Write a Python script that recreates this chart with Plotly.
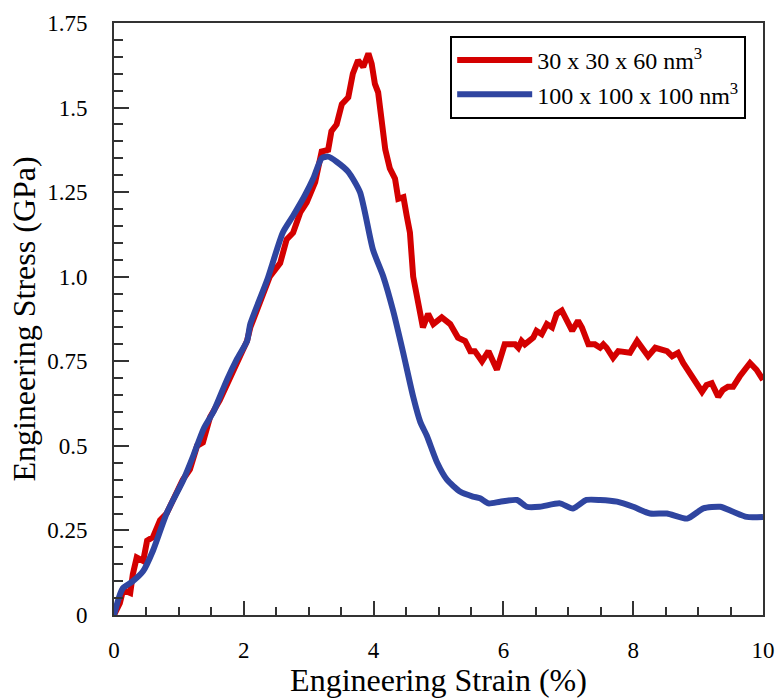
import plotly.graph_objects as go

red_x = [0, 0.09, 0.14, 0.25, 0.29, 0.35, 0.45, 0.51, 0.60, 0.71, 0.81, 0.97, 1.06, 1.17, 1.28, 1.37,
         1.48, 1.63, 1.79, 1.94, 2.05, 2.10, 2.25, 2.40, 2.56, 2.66, 2.76, 2.87, 2.97, 3.10, 3.20, 3.30,
         3.35, 3.43, 3.51, 3.61, 3.68, 3.76, 3.84, 3.92, 3.97, 4.02, 4.07, 4.15, 4.18, 4.25, 4.33, 4.38,
         4.46, 4.51, 4.56, 4.61, 4.72, 4.76, 4.84, 4.92, 5.05, 5.18, 5.30, 5.41, 5.49, 5.56, 5.67, 5.77, 5.90,
         6.02, 6.18, 6.23, 6.28, 6.33, 6.46, 6.51, 6.59, 6.67, 6.75, 6.82, 6.90, 6.98, 7.06, 7.15, 7.21,
         7.31, 7.41, 7.49, 7.54, 7.59, 7.69, 7.77, 7.95, 8.06, 8.14, 8.23, 8.34, 8.52, 8.60, 8.69, 8.77,
         8.88, 8.95, 9.06, 9.13, 9.21, 9.31, 9.38, 9.46, 9.54, 9.64, 9.80, 9.90, 10.0]
red_y = [0, 0.035, 0.074, 0.065, 0.12, 0.17, 0.16, 0.22, 0.23, 0.28, 0.30, 0.36, 0.40, 0.43, 0.50, 0.51,
         0.585, 0.635, 0.70, 0.755, 0.81, 0.85, 0.92, 1.00, 1.04, 1.11, 1.13, 1.19, 1.22, 1.28, 1.37, 1.375,
         1.43, 1.45, 1.51, 1.53, 1.60, 1.64, 1.62, 1.66, 1.63, 1.57, 1.545, 1.43, 1.376, 1.32, 1.29, 1.23,
         1.235, 1.18, 1.13, 1.00, 0.90, 0.85, 0.89, 0.86, 0.88, 0.86, 0.82, 0.81, 0.78, 0.78, 0.75, 0.78, 0.725,
         0.80, 0.80, 0.79, 0.81, 0.80, 0.82, 0.84, 0.83, 0.86, 0.85, 0.89, 0.90, 0.87, 0.84, 0.87, 0.85,
         0.80, 0.80, 0.79, 0.80, 0.79, 0.76, 0.78, 0.775, 0.81, 0.79, 0.765, 0.79, 0.78, 0.765, 0.775, 0.745,
         0.715, 0.69, 0.66, 0.68, 0.685, 0.645, 0.665, 0.675, 0.675, 0.705, 0.745, 0.725, 0.695]

blue_x = [0, 0.09, 0.14, 0.29, 0.45, 0.60, 0.81, 1.07, 1.22, 1.38, 1.53, 1.74, 1.89, 2.05, 2.10, 2.36, 2.60,
          2.76, 2.94, 3.07, 3.20, 3.30, 3.43, 3.61, 3.79, 3.99, 4.15, 4.30, 4.45, 4.61, 4.72, 4.82,
          4.98, 5.13, 5.33, 5.53, 5.64, 5.77, 5.95, 6.21, 6.36, 6.56, 6.87, 7.07, 7.28, 7.49, 7.75, 8.00,
          8.26, 8.52, 8.83, 9.08, 9.34, 9.54, 9.75, 10.0]
blue_y = [0, 0.06, 0.08, 0.10, 0.13, 0.19, 0.30, 0.40, 0.47, 0.55, 0.60, 0.695, 0.755, 0.81, 0.86, 0.99, 1.13,
          1.18, 1.24, 1.29, 1.35, 1.355, 1.34, 1.31, 1.25, 1.08, 1.00, 0.90, 0.78, 0.645, 0.57, 0.53,
          0.45, 0.40, 0.365, 0.35, 0.345, 0.33, 0.335, 0.34, 0.32, 0.32, 0.33, 0.315, 0.34, 0.34, 0.335, 0.32,
          0.30, 0.30, 0.285, 0.315, 0.32, 0.305, 0.29, 0.29]

x_tickvals = [0, 2, 4, 6, 8, 10]
y_tickvals = [0, 0.25, 0.5, 0.75, 1.0, 1.25, 1.5, 1.75]
y_ticktext = ["0", "0.25", "0.5", "0.75", "1.0", "1.25", "1.5", "1.75"]

FONT = "Liberation Serif, Times New Roman, serif"
AX = "#333333"

fig = go.Figure()
fig.add_trace(go.Scatter(x=red_x, y=red_y, mode="lines", name="30 x 30 x 60 nm<sup>3</sup>",
                         line=dict(color="#d40000", width=6)))
fig.add_trace(go.Scatter(x=blue_x, y=blue_y, mode="lines", name="100 x 100 x 100 nm<sup>3</sup>",
                         line=dict(color="#2f45a0", width=6, shape="spline", smoothing=0.6)))

fig.update_layout(
    width=780, height=698,
    margin=dict(l=114, r=17, t=23, b=83),
    paper_bgcolor="white", plot_bgcolor="white",
    font=dict(family=FONT, color="black", size=22),
    showlegend=True,
    legend=dict(x=0.518, y=0.978, xanchor="left", yanchor="top",
                bordercolor="black", borderwidth=2, bgcolor="white",
                font=dict(family=FONT, size=24), itemwidth=75,
                tracegroupgap=0),
)
fig.update_xaxes(
    range=[0, 10], tickvals=x_tickvals, showgrid=False, zeroline=False, automargin=False,
    showline=True, linecolor=AX, linewidth=2, mirror=True,
    ticks="inside", ticklen=14, tickwidth=1.5, tickcolor=AX,
    minor=dict(dtick=0.5, ticks="inside", ticklen=8, tickwidth=1.5, tickcolor=AX, showgrid=False),
    tickfont=dict(family=FONT, size=23), ticklabelstandoff=13,
    title=dict(text="Engineering Strain (%)", font=dict(family=FONT, size=32), standoff=0),
)
fig.update_yaxes(
    range=[0, 1.75], tickvals=y_tickvals, ticktext=y_ticktext, showgrid=False, zeroline=False,
    automargin=False,
    showline=True, linecolor=AX, linewidth=2, mirror=True,
    ticks="inside", ticklen=15, tickwidth=1.5, tickcolor=AX,
    minor=dict(dtick=0.05, ticks="inside", ticklen=9, tickwidth=1.5, tickcolor=AX, showgrid=False),
    tickfont=dict(family=FONT, size=23), ticklabelstandoff=20,
    title=dict(text="Engineering Stress (GPa)", font=dict(family=FONT, size=32), standoff=2),
)

fig.write_html("out.html")
